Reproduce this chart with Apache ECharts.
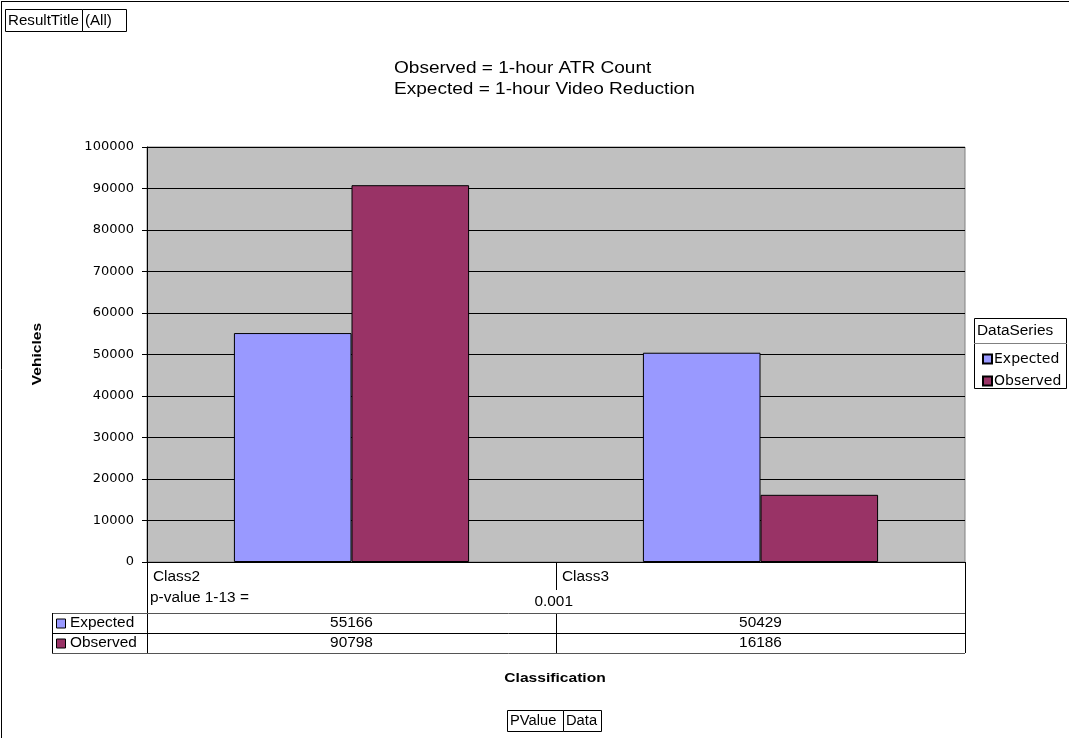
<!DOCTYPE html>
<html><head><meta charset="utf-8">
<script src="https://cdn.jsdelivr.net/npm/echarts@6/dist/echarts.min.js"></script>
<style>html,body{margin:0;padding:0;background:#fff}#c{width:1069px;height:738px}</style>
</head><body><div id="c"></div>
<script>
const categories = ['Class2', 'Class3'];
const seriesNames = ['Expected', 'Observed'];
const expected = [55166, 50429];
const observed = [90798, 16186];
const pValueLabel = 'p-value 1-13 =';
const pValue = '0.001';
const yTicks = [0, 10000, 20000, 30000, 40000, 50000, 60000, 70000, 80000, 90000, 100000];
const titleLines = ['Observed = 1-hour ATR Count', 'Expected = 1-hour Video Reduction'];

const colors = ['#9999FF', '#993366'];
const F = 'Liberation Sans, Arial, sans-serif';
const FW = 'DejaVu Sans, sans-serif';
const chart = echarts.init(document.getElementById('c'));

const L = 147, R = 965, T = 147, B = 562;
const bandW = (R - L) / categories.length;
const rowTop = [562, 613, 633, 653];
const g = [];
const line = (x1, y1, x2, y2, c) => g.push({type: 'line', shape: {x1, y1, x2, y2}, style: {stroke: c || '#000', lineWidth: 1}, silent: true});
const text = (x, y, t, opt, sx) => g.push({type: 'text', x, y, scaleX: sx || 1.1, silent: true,
  style: Object.assign({text: t, font: '14px ' + F, fill: '#000', textVerticalAlign: 'middle'}, opt || {})});

// outer border (left and top only visible)
line(1.5, 1, 1.5, 738);
line(1, 1.5, 1069, 1.5);
// pivot buttons top
g.push({type: 'rect', shape: {x: 5.5, y: 9.5, width: 77, height: 22}, style: {fill: '#fff', stroke: '#000'}});
g.push({type: 'rect', shape: {x: 82.5, y: 9.5, width: 44, height: 22}, style: {fill: '#fff', stroke: '#000'}});
text(8, 21, 'ResultTitle', null, 1.08); text(85, 21, '(All)', null, 1.08);
// pivot buttons bottom
g.push({type: 'rect', shape: {x: 507.5, y: 710.5, width: 56, height: 21}, style: {fill: '#fff', stroke: '#000'}});
g.push({type: 'rect', shape: {x: 563.5, y: 710.5, width: 38, height: 21}, style: {fill: '#fff', stroke: '#000'}});
text(510, 721, 'PValue', null, 1.05); text(566, 721, 'Data', null, 1.05);
// title
text(394, 69, titleLines[0], {font: '16px ' + F}, 1.19);
text(394, 90, titleLines[1], {font: '16px ' + F}, 1.19);
// axis names
text(555, 678, 'Classification', {font: 'bold 13px ' + F, textAlign: 'center'}, 1.2);
g.push({type: 'text', x: 37, y: 354, rotation: Math.PI / 2, scaleX: 1.2, silent: true,
  style: {text: 'Vehicles', font: 'bold 13px ' + F, fill: '#000', textAlign: 'center', textVerticalAlign: 'middle'}});

// data table
line(L + 0.5, 562, L + 0.5, 653);
line(R + 0.5, 562, R + 0.5, 653);
line(L + bandW + 0.5, 562, L + bandW + 0.5, 590);
line(L + bandW + 0.5, 613, L + bandW + 0.5, 653);
line(52, 613.5, R, 613.5, '#555');
line(52, 633.5, R, 633.5);
line(52, 653.5, R, 653.5, '#555');
line(52.5, 613, 52.5, 653);
categories.forEach((c, i) => text(L + i * bandW + 6, 577, c));
text(150, 598, pValueLabel);
text(573, 602, pValue, {textAlign: 'right'});
[expected, observed].forEach((arr, r) => {
  const yc = rowTop[r + 1] + 10.5;
  g.push({type: 'rect', shape: {x: 56.5, y: yc - 4.5, width: 9, height: 9}, style: {fill: colors[r], stroke: '#000'}});
  text(70, yc, seriesNames[r]);
  arr.forEach((v, i) => text(L + i * bandW + bandW / 2, yc, String(v), {textAlign: 'center'}));
});
// legend box
g.push({type: 'rect', shape: {x: 974.5, y: 318.5, width: 92, height: 70}, style: {fill: '#fff', stroke: '#000'}});
line(974, 343.5, 1067, 343.5, '#808080');
text(977, 331, 'DataSeries', null, 1.1);

chart.setOption({
  animation: false,
  backgroundColor: '#fff',
  grid: {left: L, right: 1069 - R, top: T, bottom: 738 - B, show: true, backgroundColor: '#C0C0C0', borderColor: '#808080', borderWidth: 1},
  legend: {
    orient: 'vertical', left: 977, top: 347, itemWidth: 9, itemHeight: 9, itemGap: 8, icon: 'rect',
    data: seriesNames, textStyle: {fontFamily: FW, fontSize: 14, color: '#000', padding: [0, 0, 0, -3]}, z: 10
  },
  xAxis: {type: 'category', data: categories, axisLabel: {show: false}, axisTick: {show: false},
    axisLine: {lineStyle: {color: '#000'}}},
  yAxis: {type: 'value', min: yTicks[0], max: yTicks[yTicks.length - 1], interval: yTicks[1] - yTicks[0],
    axisLine: {show: true, lineStyle: {color: '#000'}},
    axisTick: {show: true, length: 5, lineStyle: {color: '#000'}},
    axisLabel: {fontFamily: FW, fontSize: 13, color: '#000', margin: 13, formatter: v => String(v)},
    splitLine: {lineStyle: {color: '#000', width: 1}}},
  series: [
    {name: seriesNames[0], type: 'bar', data: expected, barGap: '0%', barCategoryGap: '42.5%',
      itemStyle: {color: colors[0], borderColor: '#000', borderWidth: 1}},
    {name: seriesNames[1], type: 'bar', data: observed, barGap: '0%', barCategoryGap: '42.5%',
      itemStyle: {color: colors[1], borderColor: '#000', borderWidth: 1}}
  ],
  graphic: {elements: g}
});
</script></body></html>
